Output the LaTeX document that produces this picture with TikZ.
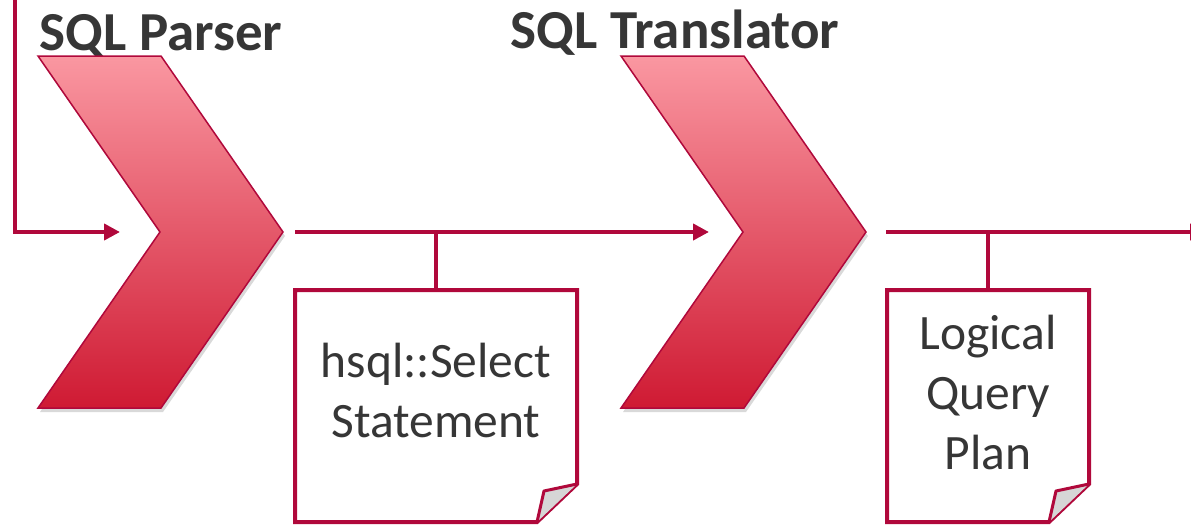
\documentclass[tikz,border=0pt]{standalone}
\usepackage{fontspec}
\setmainfont{Carlito}
\usetikzlibrary{arrows.meta, positioning, shadows}

\definecolor{crimson}{HTML}{B0083B}
\definecolor{inkgray}{HTML}{363636}
\definecolor{chevtop}{HTML}{FA97A1}
\definecolor{chevmid}{HTML}{F17A87}
\definecolor{chevbot}{HTML}{CF1A33}
\definecolor{curlgray}{HTML}{D6D6D6}

\begin{document}
\begin{tikzpicture}[
    x=1pt, y=-1pt,
    title/.style={anchor=base, font=\fontsize{55}{60}\selectfont\bfseries, text=inkgray},
    doctext/.style={align=center, font=\fontsize{49.5}{60}\selectfont, text=inkgray},
    flow/.style={draw=crimson, line width=4pt},
    arrow/.style={flow, -{Triangle[length=16pt, width=16pt]}},
    chevron/.pic={
      \path[draw=crimson, line width=1.5pt, top color=chevtop, middle color=chevmid, bottom color=chevbot,
            drop shadow={opacity=0.3, shadow xshift=2pt, shadow yshift=-4pt}]
        (0,0) -- (123,0) -- (245,176) -- (123,352) -- (0,352) -- (122,176) -- cycle;
      \coordinate (-notch) at (122,176);
      \coordinate (-tip) at (245,176);
    },
    % #1 = half width of the sheet
    pics/page/.style={code={
      \draw[crimson, line width=4pt, fill=white]
        (-#1,0) -- (#1,0) -- (#1,194) -- ({#1-40},232) -- (-#1,232) -- cycle;
      \draw[crimson, line width=3pt, fill=curlgray, line join=round]
        ({#1-40},232) -- ({#1-33},201) -- (#1,194);
      \coordinate (-top) at (0,0);
    }}
  ]
    \useasboundingbox (0,0) rectangle (1191,525);

    \node[title] (parserlbl) at (161,50) {SQL Parser};
    \node[title] (translbl) at (675,48) {SQL Translator};

    \pic (parser) at (38,56) {chevron};
    \pic (translator) at (621,56) {chevron};

    \pic (stmtpage) at (436,290) {page=141};
    \pic (planpage) at (988,290) {page=101};

    \node[doctext] (stmt) at (436,390) {hsql::Select\\Statement};
    \node[doctext] (plan) at (988,392) {Logical\\Query\\Plan};

    \coordinate (query) at (15,-10);
    \coordinate (result) at (1206,232);

    \draw[arrow, shorten >=40pt] (query) |- (parser-notch);
    \draw[arrow, shorten <=12pt, shorten >=34pt] (parser-tip) -- (translator-notch);
    \draw[arrow, shorten <=20pt] (translator-tip) -- (result);
    \draw[flow] (stmtpage-top) -- (stmtpage-top |- parser-tip);
    \draw[flow] (planpage-top) -- (planpage-top |- translator-tip);
  \end{tikzpicture}
\end{document}
